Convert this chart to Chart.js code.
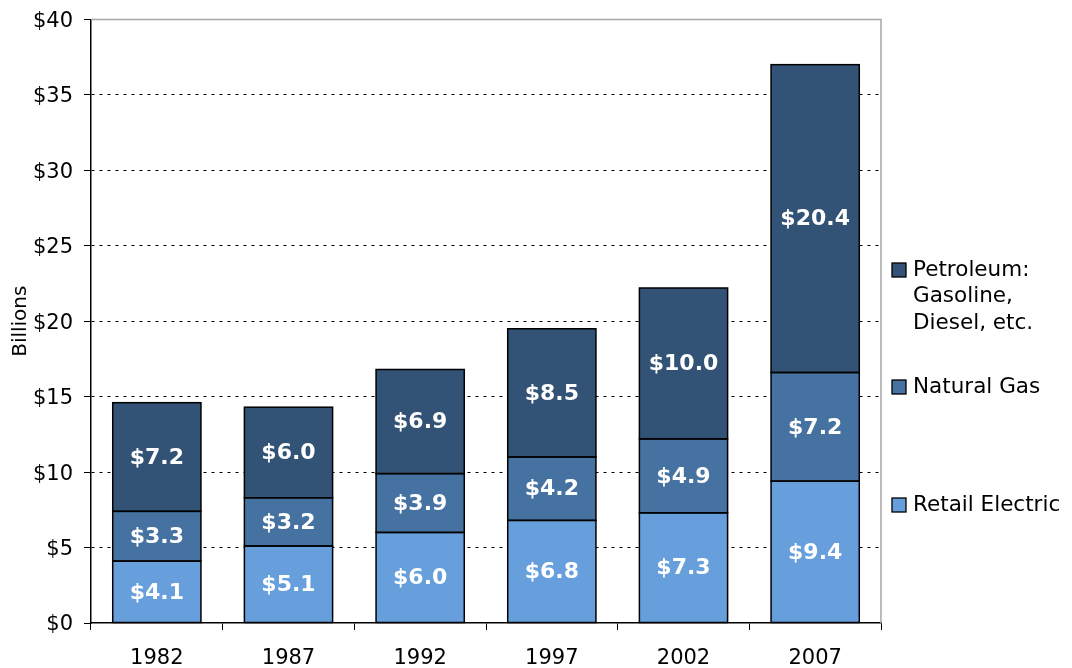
<!DOCTYPE html>
<html>
<head>
<meta charset="utf-8">
<script src="https://cdn.jsdelivr.net/npm/chart.js@4/dist/chart.umd.min.js"></script>
<style>
html,body{margin:0;padding:0;background:#fff;}
#wrap{width:1072px;height:668px;position:relative;}
</style>
</head>
<body>
<div id="wrap"><canvas id="c" width="1072" height="668"></canvas></div>
<script>
const categories = ['1982','1987','1992','1997','2002','2007'];
const retailElectric = [4.1, 5.1, 6.0, 6.8, 7.3, 9.4];
const naturalGas = [3.3, 3.2, 3.9, 4.2, 4.9, 7.2];
const petroleum = [7.2, 6.0, 6.9, 8.5, 10.0, 20.4];
const seriesNames = ['Retail Electric', 'Natural Gas', ['Petroleum:', 'Gasoline,', 'Diesel, etc.']];
const yTicks = [0, 5, 10, 15, 20, 25, 30, 35, 40];

const FONT = "'DejaVu Sans', Verdana, sans-serif";
const colors = ['#669FDB', '#4672A1', '#325376'];

const outlinePlugin = {
  id: 'outlines',
  afterDatasetsDraw(chart) {
    const ctx = chart.ctx;
    ctx.save();
    ctx.strokeStyle = '#000';
    ctx.lineWidth = 1.5;
    chart.data.datasets.forEach((ds, di) => {
      chart.getDatasetMeta(di).data.forEach(bar => {
        const w = bar.width;
        ctx.strokeRect(bar.x - w / 2, bar.y, w, bar.base - bar.y);
      });
    });
    ctx.restore();
  }
};

const labelPlugin = {
  id: 'segLabels',
  afterDatasetsDraw(chart) {
    const ctx = chart.ctx;
    ctx.save();
    ctx.font = 'bold 22px ' + FONT;
    ctx.fillStyle = '#fff';
    ctx.textAlign = 'center';
    ctx.textBaseline = 'middle';
    chart.data.datasets.forEach((ds, di) => {
      const meta = chart.getDatasetMeta(di);
      meta.data.forEach((bar, i) => {
        const v = ds.data[i];
        const cy = (bar.y + bar.base) / 2;
        ctx.fillText('$' + v.toFixed(1), bar.x, cy + 1);
      });
    });
    ctx.restore();
  }
};

const framePlugin = {
  id: 'frame',
  beforeDatasetsDraw(chart) {
    const ctx = chart.ctx, a = chart.chartArea;
    ctx.save();
    ctx.strokeStyle = '#a6a6a6';
    ctx.lineWidth = 1.5;
    ctx.beginPath();
    ctx.moveTo(a.left, a.top);
    ctx.lineTo(a.right, a.top);
    ctx.lineTo(a.right, a.bottom);
    ctx.stroke();
    ctx.restore();
  }
};

const legendPlugin = {
  id: 'customLegend',
  afterDraw(chart) {
    const ctx = chart.ctx;
    ctx.save();
    ctx.font = '21.5px ' + FONT;
    ctx.textBaseline = 'middle';
    ctx.textAlign = 'left';
    const entries = [
      {di: 2, y: 270},
      {di: 1, y: 387},
      {di: 0, y: 505}
    ];
    entries.forEach(e => {
      const ds = chart.data.datasets[e.di];
      ctx.fillStyle = ds.backgroundColor;
      ctx.fillRect(892, e.y - 7, 14, 14);
      ctx.strokeStyle = '#000';
      ctx.lineWidth = 1.3;
      ctx.strokeRect(892, e.y - 7, 14, 14);
      ctx.fillStyle = '#000';
      const lines = Array.isArray(ds.label) ? ds.label : [ds.label];
      lines.forEach((t, k) => ctx.fillText(t, 913, e.y + k * 26.5));
    });
    ctx.restore();
  }
};

new Chart(document.getElementById('c'), {
  type: 'bar',
  data: {
    labels: categories,
    datasets: [
      {label: seriesNames[0], data: retailElectric, backgroundColor: colors[0]},
      {label: seriesNames[1], data: naturalGas, backgroundColor: colors[1]},
      {label: seriesNames[2], data: petroleum, backgroundColor: colors[2]}
    ].map(d => Object.assign(d, {borderWidth: 0, categoryPercentage: 0.67, barPercentage: 1.0}))
  },
  options: {
    responsive: false,
    animation: false,
    devicePixelRatio: 1,
    layout: {padding: {left: 0, top: 19, right: 191, bottom: 0}},
    plugins: {legend: {display: false}, tooltip: {enabled: false}},
    scales: {
      x: {
        stacked: true,
        offset: true,
        grid: {offset: true, drawOnChartArea: false, drawTicks: true, tickLength: 7, color: '#000', lineWidth: 1},
        border: {display: true, color: '#000', width: 1.5},
        ticks: {color: '#000', font: {family: FONT, size: 21}, padding: 16, maxRotation: 0},
        afterFit(s) { s.height = 45; }
      },
      y: {
        stacked: true,
        min: 0, max: 40,
        afterBuildTicks(s) { s.ticks = yTicks.map(v => ({value: v})); },
        grid: {
          color: ctx => (ctx.tick && (ctx.tick.value === 0 || ctx.tick.value === 40)) ? 'rgba(0,0,0,0)' : '#000',
          tickColor: '#000',
          lineWidth: 1,
          drawTicks: true,
          tickLength: 7,
          tickBorderDash: []
        },
        border: {display: true, color: '#000', width: 1.5, dash: [3, 5]},
        ticks: {
          color: '#000', font: {family: FONT, size: 21, lineHeight: 0.8}, padding: 11, labelOffset: 2,
          callback: v => '$' + v
        },
        title: {display: true, text: 'Billions', color: '#000', font: {family: FONT, size: 20}, padding: {top: 9, bottom: 4}},
        afterFit(s) { s.width = 91; }
      }
    }
  },
  plugins: [framePlugin, outlinePlugin, labelPlugin, legendPlugin]
});
</script>
</body>
</html>
